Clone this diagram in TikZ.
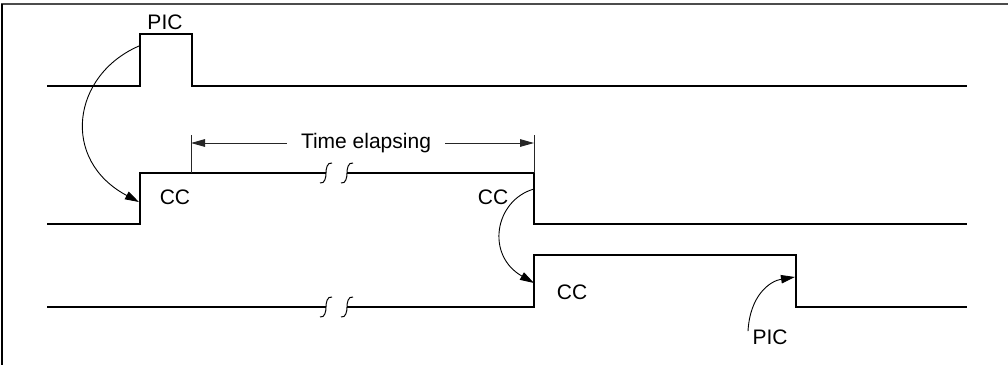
\documentclass[tikz,border=0pt]{standalone}
\usepackage{fontspec}
\setmainfont{Liberation Sans}
\usetikzlibrary{arrows.meta,positioning,calc}
\tikzset{
  signal/.style={line width=1.3pt,line join=miter},
  thin/.style={line width=0.5pt,draw=black!85},
  causearrow/.style={-{Triangle[length=7pt,width=4.2pt]},line width=0.45pt},
  dimarrow/.style={-{Triangle[length=7pt,width=3.8pt]},line width=0.5pt,draw=black!85},
  lbl/.style={font=\fontsize{10.5}{12}\selectfont,inner sep=1pt},
  breakmark/.style={line width=0.5pt},
  frameline/.style={line width=1pt}
}
% small integral-like break sign on a signal line
\newcommand{\brk}[1]{%
  \draw[breakmark] ($(#1)+(-6,10)$) .. controls ($(#1)+(-1,11)$) and ($(#1)+(0,4)$) .. (#1)
    .. controls ($(#1)+(0,-4)$) and ($(#1)+(1,-11)$) .. ($(#1)+(6,-10)$);}

\begin{document}
\begin{tikzpicture}[x=0.5pt,y=-0.5pt]
  \useasboundingbox (0,0) rectangle (1008,365);
  % frame
  \draw[frameline,draw=black!70] (1,4) -- (1008,4);
  \draw[frameline] (2,4) -- (2,365);

  % signal 1: PIC pulse
  \coordinate (s1a) at (47,86);
  \coordinate (s1b) at (140,86);
  \coordinate (s1c) at (140,34);
  \coordinate (s1d) at (192,34);
  \coordinate (s1e) at (192,86);
  \coordinate (s1f) at (967,86);
  \draw[signal] (s1a) -- (s1b) -- (s1c) -- (s1d) -- (s1e) -- (s1f);

  % signal 2
  \coordinate (s2a) at (47,224);
  \coordinate (s2b) at (140,224);
  \coordinate (s2c) at (140,173);
  \coordinate (brk2l) at (326,173);
  \coordinate (brk2r) at (347,173);
  \coordinate (s2d) at (534,173);
  \coordinate (s2e) at (534,224);
  \coordinate (s2f) at (967,224);
  \draw[signal] (s2a) -- (s2b) -- (s2c) -- (brk2l);
  \draw[signal] (brk2r) -- (s2d) -- (s2e) -- (s2f);
  \brk{brk2l}
  \brk{brk2r}

  % signal 3
  \coordinate (s3a) at (47,307);
  \coordinate (brk3l) at (326,307);
  \coordinate (brk3r) at (347,307);
  \coordinate (s3b) at (534,307);
  \coordinate (s3c) at (534,255);
  \coordinate (s3d) at (796,255);
  \coordinate (s3e) at (796,307);
  \coordinate (s3f) at (967,307);
  \draw[signal] (s3a) -- (brk3l);
  \draw[signal] (brk3r) -- (s3b) -- (s3c) -- (s3d) -- (s3e) -- (s3f);
  \brk{brk3l}
  \brk{brk3r}

  % labels
  \node[lbl] (picA) at (165,22) {PIC};
  \node[lbl] (ccA) at (175,197) {CC};
  \node[lbl] (ccB) at (493,197) {CC};
  \node[lbl] (ccC) at (572,292) {CC};
  \node[lbl] (picB) at (770,337) {PIC};

  % time elapsing dimension
  \coordinate (tl) at (191,135);
  \coordinate (tr) at (534,135);
  \draw[thin] (tl) -- (tl |- s2c);
  \draw[thin] (tr) -- (s2d);
  \node[lbl,inner xsep=7pt] (elapse) at (366,143) {Time elapsing};
  \draw[dimarrow] (elapse.west) -- (elapse.west -| tl);
  \draw[dimarrow] (elapse.east) -- (elapse.east -| tr);

  % cause arrows
  \coordinate (c1s) at (139,46);
  \coordinate (c1e) at (139,202);
  \draw[causearrow] (c1s) .. controls (72,75) and (60,160) .. (c1e);
  \coordinate (c2s) at (534,189);
  \coordinate (c2e) at (534,283);
  \draw[causearrow] (c2s) .. controls (495,200) and (485,255) .. (c2e);
  \coordinate (c3e) at (795,277);
  \draw[causearrow] ([xshift=-11,yshift=-2]picB.north) .. controls (750,295) and (770,281) .. (c3e);
\end{tikzpicture}
\end{document}
